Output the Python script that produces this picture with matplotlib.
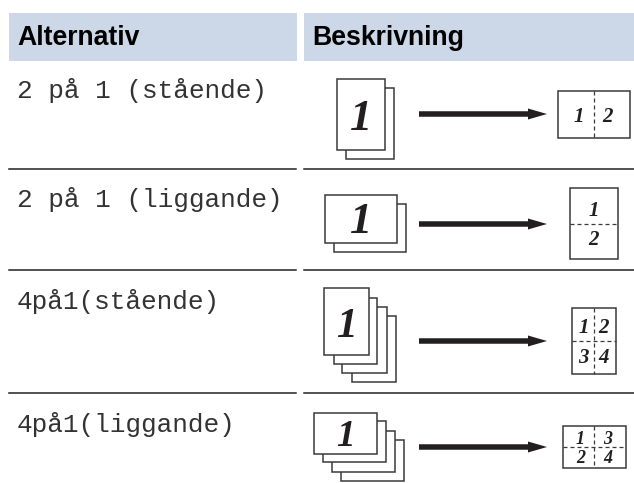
import matplotlib
matplotlib.use("Agg")
import matplotlib.pyplot as plt
from matplotlib.patches import Rectangle

headers = ["Alternativ", "Beskrivning"]
options = ["2 på 1 (stående)", "2 på 1 (liggande)", "4på1(stående)", "4på1(liggande)"]
option_y = [98, 207, 309, 432]
rule_y = [169, 270, 393]
big_digit = "1"
digits_2up = ["1", "2"]
digits_4up = ["1", "2", "3", "4"]
digits_4up_land = ["1", "3", "2", "4"]

HEAD_BG = "#CCD7E8"
LINE = "#3a3a3a"
INK = "#231f20"
SERIF = "Liberation Serif"

fig = plt.figure(figsize=(6.34, 4.83), dpi=100)
ax = fig.add_axes([0, 0, 1, 1])
ax.set_xlim(0, 634)
ax.set_ylim(483, 0)
ax.axis("off")


def page(x0, y0, x1, y1):
    ax.add_patch(Rectangle((x0, y0), x1 - x0, y1 - y0, fc="white", ec=LINE, lw=1.1))


def digit(x, y, s, size):
    ax.text(x, y, s, fontsize=size, family=SERIF, style="italic", weight="bold",
            color=INK, ha="center", va="baseline")


def arrow(y):
    ax.arrow(419, y, 128, 0, width=5.5, head_width=11, head_length=19,
             length_includes_head=True, color=INK, lw=0)


def dashed(x0, y0, x1, y1):
    ax.plot([x0, x1], [y0, y1], color=LINE, lw=0.9, dashes=(3.2, 2.4))


# kopfzeile
ax.add_patch(Rectangle((9, 13), 288, 48, fc=HEAD_BG, ec="none"))
ax.add_patch(Rectangle((304, 13), 330, 48, fc=HEAD_BG, ec="none"))
ax.text(17, 45, headers[0], fontsize=19.2, family="Liberation Sans", weight="bold", color="black", va="baseline")
ax.text(312, 45, headers[1], fontsize=19.2, family="Liberation Sans", weight="bold", color="black", va="baseline")

for yy in rule_y:
    ax.plot([9, 296], [yy, yy], color="#222222", lw=1.1)
    ax.plot([304, 634], [yy, yy], color="#222222", lw=1.1)

for label, yy in zip(options, option_y):
    ax.text(17, yy, label, fontsize=18.8, family="Liberation Mono", color="#333333", va="baseline")

# rad 1
page(346, 88, 394, 159)
page(337, 79, 385, 150)
digit(361, 130, big_digit, 32)
arrow(114)
page(558, 91, 630, 138)
dashed(594, 91, 594, 138)
digit(578.5, 122, digits_2up[0], 15)
digit(608, 122, digits_2up[1], 15)

# rad 2
page(334, 204, 406, 252)
page(325, 195, 397, 243)
digit(361, 233, big_digit, 32)
arrow(224)
page(570, 188, 618, 259)
dashed(570, 224, 618, 224)
digit(594, 216, digits_2up[0], 15)
digit(594, 245, digits_2up[1], 15)

# rad 3
page(352, 316, 396, 382)
page(342, 307, 387, 373)
page(334, 298, 377, 364)
page(324, 288, 368.5, 355)
digit(346.5, 337, big_digit, 30)
arrow(341)
page(572, 308, 616, 374)
dashed(594, 308, 594, 374)
dashed(572, 341, 616, 341)
digit(583.5, 333, digits_4up[0], 15)
digit(603.5, 333, digits_4up[1], 15)
digit(583.5, 363, digits_4up[2], 15)
digit(604, 363, digits_4up[3], 15)

# rad 4
page(341, 440, 404, 481)
page(332, 431, 395, 472)
page(323, 421, 386, 462)
page(313.5, 412.5, 376.5, 454)
digit(345.5, 446, big_digit, 27)
arrow(447)
page(563, 426, 626, 468)
dashed(594, 426, 594, 468)
dashed(563, 447, 626, 447)
digit(580, 444, digits_4up_land[0], 13)
digit(608, 444, digits_4up_land[1], 13)
digit(581, 463, digits_4up_land[2], 13)
digit(608, 463, digits_4up_land[3], 13)

fig.savefig("out.png", dpi=100)
